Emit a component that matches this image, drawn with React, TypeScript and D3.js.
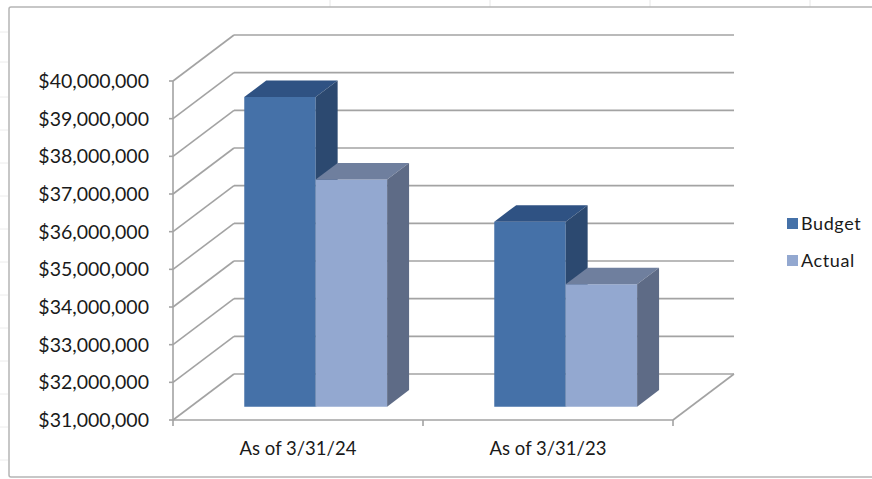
import React from "react";
import * as d3 from "d3";

const categories = ["As of 3/31/24", "As of 3/31/23"];
const series = ["Budget", "Actual"];
const budgetValues = [39220000, 35910000];
const actualValues = [37030000, 34250000];
const yTicks = [31000000, 32000000, 33000000, 34000000, 35000000, 36000000, 37000000, 38000000, 39000000, 40000000];

const W = 872;
const H = 479;
const FONT = "Lato, 'Open Sans', sans-serif";

const faces: Record<string, { front: string; top: string; side: string }> = {
  Budget: { front: "#4571a8", top: "#2f5283", side: "#2c4970" },
  Actual: { front: "#93a8d0", top: "#6f7f9e", side: "#5e6b86" },
};

export default function App() {
  const y = d3.scaleLinear().domain([31000000, 40000000]).range([420, 81]);
  const x0 = d3.scaleBand<string>().domain(categories).range([173, 673]).paddingInner(0).paddingOuter(0);
  const x1 = d3
    .scaleBand<string>()
    .domain(series)
    .range([0, x0.bandwidth()])
    .paddingInner(0)
    .paddingOuter(0.75);

  const DX = 61;
  const DY = -46;
  const f0 = 0.29;
  const fd = 0.36;
  const fmt = (v: number) => "$" + d3.format(",")(v);
  const grid = "#a3a3a3";

  const values: Record<string, number[]> = { Budget: budgetValues, Actual: actualValues };

  const pts = (arr: [number, number][]) => arr.map((p) => p.join(",")).join(" ");

  const bars: React.ReactNode[] = [];
  categories.forEach((c, ci) => {
    series.forEach((s) => {
      const v = values[s][ci];
      const xl = (x0(c) as number) + (x1(s) as number) + f0 * DX;
      const xr = xl + x1.bandwidth();
      const yb = y(31000000) + f0 * DY;
      const yt = y(v) + f0 * DY;
      const ddx = fd * DX;
      const ddy = fd * DY;
      const col = faces[s];
      bars.push(
        <g key={c + s}>
          <polygon points={pts([[xl, yb], [xr, yb], [xr, yt], [xl, yt]])} fill={col.front} />
          <polygon
            points={pts([[xl, yt], [xr, yt], [xr + ddx, yt + ddy], [xl + ddx, yt + ddy]])}
            fill={col.top}
          />
          <polygon
            points={pts([[xr, yb], [xr + ddx, yb + ddy], [xr + ddx, yt + ddy], [xr, yt]])}
            fill={col.side}
          />
        </g>
      );
    });
  });

  const floorY = y(31000000);
  const xStart = 173;
  const xEnd = 673;

  return (
    <svg width={W} height={H} style={{ position: "absolute", left: 0, top: 0 }}>
      <rect x={0} y={0} width={W} height={H} fill="#ffffff" />
      {/* faint spreadsheet lines outside the chart */}
      {[330, 490, 650, 810].map((gx) => (
        <line key={"v" + gx} x1={gx} x2={gx} y1={0} y2={7} stroke="#e6e6e6" strokeWidth={1} />
      ))}
      {[32, 62, 97, 130, 163, 196, 229, 262, 295, 328, 361, 394, 427, 460].map((gy) => (
        <line key={"h" + gy} x1={0} x2={8} y1={gy} y2={gy} stroke="#ececec" strokeWidth={1} />
      ))}
      <rect x={9} y={7} width={W + 10} height={470} fill="#ffffff" stroke="#b5b5b5" strokeWidth={1.5} rx={2} />

      {/* back wall gridlines and left wall diagonals */}
      {yTicks.map((t) => (
        <g key={"g" + t}>
          <line x1={xStart + DX} x2={xEnd + DX} y1={y(t) + DY} y2={y(t) + DY} stroke={grid} strokeWidth={1.6} />
          <line x1={xStart} x2={xStart + DX} y1={y(t)} y2={y(t) + DY} stroke={grid} strokeWidth={1.6} />
          <line x1={xStart - 4} x2={xStart} y1={y(t)} y2={y(t)} stroke={grid} strokeWidth={1.6} />
        </g>
      ))}
      {/* floor */}
      <line x1={xStart} x2={xEnd} y1={floorY} y2={floorY} stroke={grid} strokeWidth={1.6} />
      <line x1={xEnd} x2={xEnd + DX} y1={floorY} y2={floorY + DY} stroke={grid} strokeWidth={1.6} />
      {/* vertical axis */}
      <line x1={xStart} x2={xStart} y1={y(40000000)} y2={floorY} stroke={grid} strokeWidth={1.6} />
      {/* category ticks */}
      {[...categories.map((c) => x0(c) as number), xEnd].map((tx, i) => (
        <line key={"ct" + i} x1={tx} x2={tx} y1={floorY} y2={floorY + 6} stroke={grid} strokeWidth={1.6} />
      ))}

      {bars}

      {/* y labels */}
      {yTicks.map((t) => (
        <text
          key={"l" + t}
          x={149}
          y={y(t) + 7}
          textAnchor="end"
          fontFamily={FONT}
          fontSize={19.5}
          fill="#1a1a1a"
        >
          {fmt(t)}
        </text>
      ))}
      {/* category labels */}
      {categories.map((c) => (
        <text
          key={"c" + c}
          x={(x0(c) as number) + x0.bandwidth() / 2}
          y={455}
          textAnchor="middle"
          fontFamily={FONT}
          fontSize={18.5}
          fill="#1a1a1a"
        >
          {c}
        </text>
      ))}
      {/* legend */}
      {series.map((s, i) => (
        <g key={"lg" + s}>
          <rect x={787} y={218 + i * 37} width={11} height={11} fill={faces[s].front} />
          <text x={801} y={230 + i * 37} fontFamily={FONT} fontSize={18} fill="#1a1a1a" letterSpacing={0.6}>
            {s}
          </text>
        </g>
      ))}
    </svg>
  );
}
